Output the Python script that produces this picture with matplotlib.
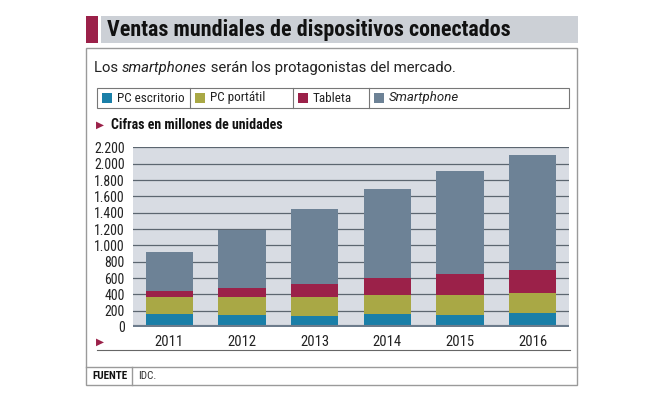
import matplotlib.pyplot as plt
import matplotlib.patches as mpatches
import matplotlib.lines as mlines
import numpy as np

# datos (millones de unidades)
years = ['2011', '2012', '2013', '2014', '2015', '2016']
pc_escritorio = [154, 142, 135, 155, 151, 168]
pc_portatil = [218, 230, 233, 242, 246, 249]
tableta = [73, 106, 164, 204, 257, 286]
smartphone = [478, 708, 920, 1088, 1256, 1403]
series_names = ['PC escritorio', 'PC portátil', 'Tableta', 'Smartphone']
colors = ['#1a7fa8', '#a9a845', '#9b2149', '#6d8296']
yticks = list(range(0, 2201, 200))

W, H = 653, 398
fig = plt.figure(figsize=(W / 100, H / 100), dpi=100)
fig.patch.set_facecolor('white')

cond = ['Roboto Condensed', 'DejaVu Sans']
reg = ['Roboto', 'DejaVu Sans']


def fx(x):
    return x / W


def fy(y):
    return 1 - y / H


def rect(x0, y0, x1, y1, **kw):
    fig.add_artist(mpatches.Rectangle((fx(x0), fy(y1)), fx(x1) - fx(x0), fy(y0) - fy(y1),
                                      transform=fig.transFigure, **kw))


def line(x0, y0, x1, y1, **kw):
    fig.add_artist(mlines.Line2D([fx(x0), fx(x1)], [fy(y0), fy(y1)], transform=fig.transFigure, **kw))


# cabecera
rect(86, 16, 98, 43, facecolor='#9b2149', edgecolor='none')
rect(101, 16, 578, 43, facecolor='#ccd0d6', edgecolor='none')
fig.text(fx(107), fy(30), 'Ventas mundiales de dispositivos conectados', family=cond,
         weight='bold', fontsize=15.8, va='center', ha='left', color='#111111')

# marco
rect(86, 48, 577, 385, facecolor='none', edgecolor='#9a9a9a', lw=1)
line(86, 367, 577, 367, color='#9a9a9a', lw=1)
line(132, 367, 132, 385, color='#9a9a9a', lw=1)
fig.text(fx(92), fy(376), 'FUENTE', family=cond, weight='bold', fontsize=8, va='center', color='#111111')
fig.text(fx(138), fy(376), 'IDC.', family=cond, fontsize=8, va='center', color='#333333')

# frase de entrada (con "smartphones" en cursiva)
r = fig.canvas.get_renderer()
x = 94
for part, st in [('Los ', 'normal'), ('smartphones', 'italic'), (' serán los protagonistas del mercado.', 'normal')]:
    t = fig.text(fx(x), fy(68), part, family=reg, style=st, fontsize=10.7, va='center', color='#222222')
    x += t.get_window_extent(r).width

# leyenda
rect(97, 88, 569, 108, facecolor='none', edgecolor='#777777', lw=0.8)
seps = [97, 190, 293, 369, 569]
for s in seps[1:-1]:
    line(s, 88, s, 108, color='#777777', lw=0.8)
for i, name in enumerate(series_names):
    x0 = seps[i] + 5
    rect(x0, 93, x0 + 10, 103, facecolor=colors[i], edgecolor='none')
    fig.text(fx(x0 + 15), fy(98), name, family=reg if name == 'Smartphone' else cond, fontsize=9.5,
             va='center', color='#222222', style='italic' if name == 'Smartphone' else 'normal')

# subtitulo del grafico
fig.text(fx(96), fy(125), '\u25b6', family='DejaVu Sans', fontsize=7.5, va='center', color='#9b2149')
fig.text(fx(111), fy(125), 'Cifras en millones de unidades', family=cond, weight='bold',
         fontsize=10, va='center', color='#111111')

# ejes
ax = fig.add_axes([fx(133), fy(327), fx(569) - fx(133), fy(146.5) - fy(327)])
ax.set_facecolor('#d8dce3')
x = np.arange(len(years))
bottom = np.zeros(len(years))
for vals, c in zip([pc_escritorio, pc_portatil, tableta, smartphone], colors):
    ax.bar(x, vals, bottom=bottom, width=0.65, color=c, zorder=3)
    bottom += np.array(vals)
for t in yticks[1:]:
    ax.axhline(t, color='#5c6670', lw=0.9, zorder=1)
ax.axhline(0, color='#6d7c8c', lw=3, zorder=4)
ax.set_xlim(-0.5, 5.5)
ax.set_ylim(0, 2212)
for s in ax.spines.values():
    s.set_visible(False)
ax.set_xticks([])
ax.set_yticks(yticks)
ax.set_yticklabels([f'{t:,}'.replace(',', '.') for t in yticks], family=cond, fontsize=10, color='#222222')
ax.tick_params(axis='y', length=0, pad=6)

for i, yr in enumerate(years):
    xp = ax.transData.transform((i, 0))[0]
    fig.text(xp / fig.dpi / fig.get_figwidth(), fy(342), yr, family=cond, fontsize=10.5,
             ha='center', va='center', color='#222222')
fig.text(fx(96), fy(342), '\u25b6', family='DejaVu Sans', fontsize=7.5, va='center', color='#9b2149')
line(97, 350, 570, 350, color='#666666', lw=0.8)

fig.savefig('out.png', dpi=100)
